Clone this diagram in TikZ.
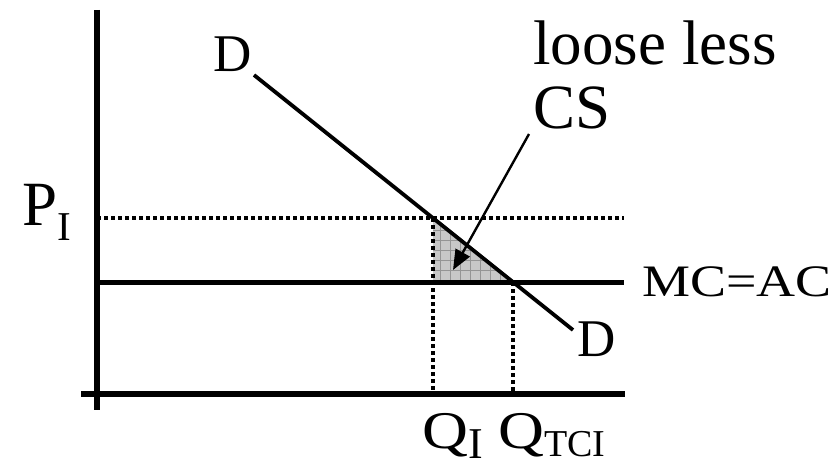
\documentclass[tikz,border=0pt]{standalone}
\usepackage{fontspec}
\setmainfont{Liberation Serif}
\usetikzlibrary{arrows.meta}
\newcommand{\lowtext}[3]{\raisebox{-#1}{\fontsize{#2}{#2}\selectfont #3}}
\newcommand{\wideQ}{\scalebox{1.2}[1]{Q}}
\begin{document}
\begin{tikzpicture}[x=0.5pt,y=-0.5pt,
  axis/.style={line width=2.9pt},
  cost/.style={line width=2.5pt},
  demand/.style={line width=1.9pt},
  guide/.style={line width=2pt,dash pattern=on 2pt off 1.5pt},
  lbl/.style={inner sep=0pt,anchor=base west},
  pointer/.style={line width=1.2pt,-{Triangle[length=10pt,width=8pt]}}]
  \useasboundingbox (0,0) rectangle (840,465);
  % points of the market
  \coordinate (ytop) at (97,10);  \coordinate (ybot) at (97,410);
  \coordinate (xl) at (81,394);   \coordinate (xr) at (625,394);
  \coordinate (pi0) at (97,218);  \coordinate (pi1) at (624,218);
  \coordinate (mc0) at (97,282);  \coordinate (mc1) at (624,282);
  \coordinate (qi) at (433,394);  \coordinate (qt) at (513,394);
  \coordinate (A) at (433,218);   \coordinate (B) at (433,282);  \coordinate (C) at (513,282);
  \coordinate (d0) at (254,75);   \coordinate (d1) at (573,330);
  \coordinate (tip) at (453,270);
  % lost surplus triangle
  \fill[black!22] (A) -- (B) -- (C) -- cycle;
  \begin{scope}
    \clip (A) -- (B) -- (C) -- cycle;
    \draw[black!42,line width=0.3pt,step=5pt] (420,200) grid (530,290);
  \end{scope}
  \draw[guide] (pi0) -- (pi1);
  \draw[guide] (A) -- (qi);
  \draw[guide] (C) -- (qt);
  \draw[cost] (mc0) -- (mc1);
  \draw[demand] (d0) -- (d1);
  \draw[axis] (ytop) -- (ybot);
  \draw[axis] (xl) -- (xr);
  % labels
  \node[lbl,font=\fontsize{26.5pt}{30pt}\selectfont] (dtop) at (213,72) {D};
  \node[lbl,font=\fontsize{26.5pt}{30pt}\selectfont] (dbot) at (577,356) {D};
  \node[lbl,font=\fontsize{31.5pt}{34pt}\selectfont] (loose) at (533,65) {loose less};
  \node[lbl,font=\fontsize{31.5pt}{34pt}\selectfont] (cs) at (533,128) {CS};
  \node[lbl,font=\fontsize{31.5pt}{34pt}\selectfont] (pI) at (22,225) {P\lowtext{7.5pt}{20.5pt}{I}};
  \node[lbl,font=\fontsize{22.5pt}{26pt}\selectfont,xscale=1.2] (mcac) at (642,296) {MC=AC};
  \node[lbl,font=\fontsize{26.5pt}{30pt}\selectfont] (qI) at (422,448) {\wideQ\lowtext{5pt}{22pt}{I}};
  \node[lbl,font=\fontsize{26.5pt}{30pt}\selectfont] (qTCI) at (498,448) {\wideQ\lowtext{4pt}{19pt}{TCI}};
  \draw[pointer] ([shift={(-4,5)}]cs.south west) -- (tip);
\end{tikzpicture}
\end{document}
